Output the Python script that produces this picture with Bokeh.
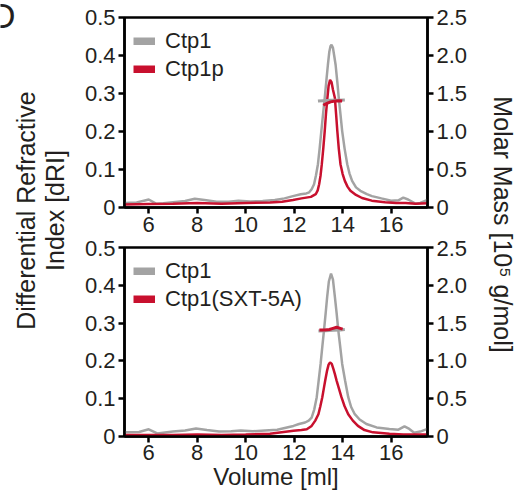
import math
from bokeh.plotting import figure
from bokeh.models import (Range1d, LinearAxis, FixedTicker, Legend, LegendItem,
                          Label)
from bokeh.layouts import row, column
from bokeh.embed import file_html
from bokeh.resources import INLINE

FONT = "Liberation Sans"
GRAY = "#a3a3a3"
RED = "#c8102e"
TXT = "#231f20"

# ---------------- data ----------------
X_TICKS = [6, 8, 10, 12, 14, 16]
X_LABELS = ["6", "8", "10", "12", "14", "16"]
DRI_TICKS = [0, 0.1, 0.2, 0.3, 0.4, 0.5]
DRI_LABELS = ["0", "0.1", "0.2", "0.3", "0.4", "0.5"]
MM_TICKS = [0, 0.5, 1.0, 1.5, 2.0, 2.5]
MM_LABELS = ["0", "0.5", "1.0", "1.5", "2.0", "2.5"]

# top panel: Ctp1 vs Ctp1p, differential refractive index
top_ctp1_vol = [5.0, 5.5, 5.8, 6.0, 6.3, 6.6, 7.0, 7.5, 7.9, 8.3, 8.8, 9.3, 9.7, 10.2,
                10.7, 11.2, 11.6, 11.95, 12.27, 12.5, 12.62, 12.72, 12.82, 12.9, 12.98,
                13.05, 13.12, 13.19, 13.26, 13.33, 13.39, 13.45, 13.5, 13.54, 13.6,
                13.65, 13.71, 13.78, 13.84, 13.91, 13.98, 14.08, 14.19, 14.28, 14.39,
                14.55, 14.73, 15.0, 15.21, 15.6, 16.0, 16.3, 16.5, 16.7, 17.0, 17.2,
                17.5]
top_ctp1_dri = [0.012, 0.013, 0.018, 0.021, 0.010, 0.011, 0.014, 0.017, 0.023, 0.020,
                0.015, 0.015, 0.018, 0.016, 0.017, 0.020, 0.024, 0.030, 0.035, 0.037,
                0.040, 0.048, 0.061, 0.085, 0.114, 0.155, 0.201, 0.245, 0.288, 0.335,
                0.375, 0.410, 0.425, 0.428, 0.420, 0.400, 0.375, 0.330, 0.288, 0.245,
                0.201, 0.155, 0.114, 0.090, 0.070, 0.053, 0.044, 0.035, 0.030, 0.024,
                0.018, 0.019, 0.026, 0.021, 0.010, 0.012, 0.020]
top_ctp1p_vol = [5.0, 6.0, 7.0, 8.0, 9.0, 10.0, 11.0, 11.5, 11.95, 12.3, 12.69, 12.89,
                 12.97, 13.03, 13.09, 13.14, 13.2, 13.26, 13.31, 13.37, 13.42, 13.48,
                 13.54, 13.6, 13.68, 13.73, 13.78, 13.84, 13.91, 14.0, 14.09, 14.2,
                 14.32, 14.55, 14.8, 15.2, 15.75, 16.2, 16.6, 17.0, 17.5]
top_ctp1p_dri = [0.008, 0.009, 0.010, 0.012, 0.010, 0.012, 0.013, 0.015, 0.020, 0.024,
                 0.028, 0.035, 0.045, 0.061, 0.085, 0.114, 0.155, 0.201, 0.245, 0.288,
                 0.320, 0.336, 0.330, 0.310, 0.288, 0.245, 0.201, 0.155, 0.114, 0.088,
                 0.070, 0.055, 0.044, 0.033, 0.025, 0.018, 0.014, 0.012, 0.012, 0.010,
                 0.011]
# molar mass, 10^5 g/mol
top_ctp1_mm_vol = [12.98, 13.2, 13.5, 13.8, 14.09]
top_ctp1_mm = [1.40, 1.405, 1.41, 1.41, 1.415]
top_ctp1p_mm_vol = [13.2, 13.35, 13.5, 13.7, 13.85, 13.98]
top_ctp1p_mm = [1.345, 1.37, 1.39, 1.40, 1.405, 1.40]

# bottom panel: Ctp1 vs Ctp1(SXT-5A)
bot_ctp1_vol = [5.0, 5.6, 6.0, 6.35, 7.0, 7.5, 7.95, 8.4, 8.9, 9.4, 9.8, 10.3, 10.8,
                11.3, 11.97, 12.2, 12.45, 12.6, 12.72, 12.83, 12.93, 13.01, 13.09,
                13.16, 13.23, 13.3, 13.36, 13.43, 13.52, 13.6, 13.68, 13.75, 13.82,
                13.9, 13.98, 14.1, 14.23, 14.35, 14.5, 14.7, 14.98, 15.4, 15.93, 16.3,
                16.55, 16.75, 16.95, 17.2, 17.5]
bot_ctp1_dri = [0.011, 0.012, 0.019, 0.008, 0.013, 0.016, 0.021, 0.017, 0.013, 0.014,
                0.016, 0.014, 0.016, 0.018, 0.028, 0.033, 0.037, 0.042, 0.050, 0.072,
                0.104, 0.148, 0.192, 0.237, 0.281, 0.327, 0.369, 0.410, 0.431, 0.415,
                0.369, 0.327, 0.281, 0.237, 0.192, 0.148, 0.104, 0.078, 0.059, 0.045,
                0.033, 0.024, 0.020, 0.018, 0.027, 0.020, 0.010, 0.013, 0.020]
bot_sxt_vol = [5.0, 6.0, 7.0, 8.0, 9.0, 10.0, 11.0, 11.97, 12.3, 12.52, 12.72, 12.87,
               13.0, 13.08, 13.16, 13.22, 13.28, 13.36, 13.42, 13.48, 13.55, 13.62,
               13.68, 13.75, 13.85, 13.95, 14.08, 14.23, 14.42, 14.63, 14.9, 15.25,
               15.93, 16.5, 17.0, 17.5]
bot_sxt_dri = [0.004, 0.004, 0.004, 0.005, 0.004, 0.005, 0.007, 0.015, 0.017, 0.019,
               0.028, 0.042, 0.059, 0.080, 0.104, 0.126, 0.148, 0.175, 0.190, 0.196,
               0.192, 0.178, 0.165, 0.148, 0.126, 0.104, 0.080, 0.059, 0.042, 0.028,
               0.017, 0.011, 0.007, 0.005, 0.005, 0.005]
bot_ctp1_mm_vol = [13.0, 13.3, 13.6, 13.9, 14.09]
bot_ctp1_mm = [1.395, 1.40, 1.405, 1.41, 1.415]
bot_sxt_mm_vol = [13.04, 13.25, 13.45, 13.6, 13.75, 13.9, 14.0]
bot_sxt_mm = [1.41, 1.41, 1.415, 1.43, 1.445, 1.43, 1.42]


def style_axis(ax, ticks, labels):
    ax.ticker = FixedTicker(ticks=ticks)
    ax.major_label_overrides = dict(zip(ticks, labels))
    ax.axis_line_width = 2.5
    ax.axis_line_color = "black"
    ax.major_tick_line_width = 2.5
    ax.major_tick_line_color = "black"
    ax.major_tick_out = 6
    ax.major_tick_in = 0
    ax.minor_tick_line_color = None
    ax.major_label_standoff = 3
    ax.major_label_text_font = FONT
    ax.major_label_text_font_size = "22px"
    ax.major_label_text_color = TXT


def panel(height, mbt, mbb, mbr, frame_h, curves, mm_curves, names, xlabel=None):
    p = figure(width=404, height=height, x_range=Range1d(5, 17.5),
               y_range=Range1d(0, 0.5), output_backend="svg",
               toolbar_location=None, min_border_left=46, min_border_right=mbr,
               min_border_top=mbt, min_border_bottom=mbb)
    # "mm": molar-mass axis; "swatch": range far away so the legend-only lines are
    # clipped out of the frame
    p.extra_y_ranges = {"mm": Range1d(0, 2.5), "swatch": Range1d(10, 11)}
    p.grid.visible = False
    p.outline_line_color = "black"
    p.outline_line_width = 2.5
    p.background_fill_color = "white"
    p.border_fill_color = "white"
    style_axis(p.xaxis[0], X_TICKS, X_LABELS)
    style_axis(p.yaxis[0], DRI_TICKS, DRI_LABELS)
    rax = LinearAxis(y_range_name="mm")
    style_axis(rax, MM_TICKS, MM_LABELS)
    p.add_layout(rax, "right")
    if xlabel:
        ax = p.xaxis[0]
        ax.major_label_standoff = 2
        ax.axis_label = xlabel
        ax.axis_label_standoff = 0
        ax.axis_label_text_font = FONT
        ax.axis_label_text_font_size = "24px"
        ax.axis_label_text_font_style = "normal"
        ax.axis_label_text_color = TXT

    colors = [GRAY, RED]
    items = []
    for (xs, ys), c, name in zip(curves, colors, names):
        p.line(xs, ys, line_color=c, line_width=2.5)
        sw = p.line(xs, ys, line_color=c, line_width=8, line_cap="butt",
                    y_range_name="swatch")
        items.append(LegendItem(label=name, renderers=[sw]))
    for (xs, ys), c in zip(mm_curves, colors):
        p.line(xs, ys, line_color=c, line_width=3, y_range_name="mm")

    leg = Legend(items=items, location=(9, frame_h - 66), margin=0, padding=0,
                 spacing=0, label_height=28, glyph_height=8, glyph_width=22,
                 label_standoff=10, border_line_color=None,
                 background_fill_alpha=0, label_text_font=FONT,
                 label_text_font_size="22px", label_text_color=TXT)
    p.add_layout(leg)
    return p


top = panel(240, 17, 33, 55, 190,
            [(top_ctp1_vol, top_ctp1_dri), (top_ctp1p_vol, top_ctp1p_dri)],
            [(top_ctp1_mm_vol, top_ctp1_mm), (top_ctp1p_mm_vol, top_ctp1p_mm)],
            ["Ctp1", "Ctp1p"])
bot = panel(261, 7, 65, 51, 189,
            [(bot_ctp1_vol, bot_ctp1_dri), (bot_sxt_vol, bot_sxt_dri)],
            [(bot_ctp1_mm_vol, bot_ctp1_mm), (bot_sxt_mm_vol, bot_sxt_mm)],
            ["Ctp1", "Ctp1(SXT-5A)"], xlabel="Volume [ml]")


def label_fig(w, h):
    f = figure(width=w, height=h, x_range=Range1d(0, w), y_range=Range1d(0, h),
               x_axis_type=None, y_axis_type=None, output_backend="svg",
               toolbar_location=None, min_border=0)
    f.outline_line_color = None
    f.grid.visible = False
    return f


H = 501
left = label_fig(78, H)
for txt, xx in [("Differential Refractive", 25), ("Index [dRI]", 54)]:
    left.add_layout(Label(x=xx, y=H - 210, text=txt, angle=math.pi / 2,
                          text_align="center", text_baseline="middle",
                          text_font=FONT, text_font_size="25px", text_color=TXT))
left.add_layout(Label(x=15, y=H - 15, text="D", text_align="right",
                      text_baseline="middle", text_font=FONT,
                      text_font_size="35px", text_color=TXT))

right = label_fig(38, H)
right.add_layout(Label(x=20, y=H - 224, text="Molar Mass [10\u2075 g/mol]",
                       angle=-math.pi / 2, text_align="center",
                       text_baseline="middle", text_font=FONT,
                       text_font_size="25px", text_color=TXT))

layout = row(left, column(top, bot), right)
open("out.html", "w").write(file_html(layout, INLINE))
